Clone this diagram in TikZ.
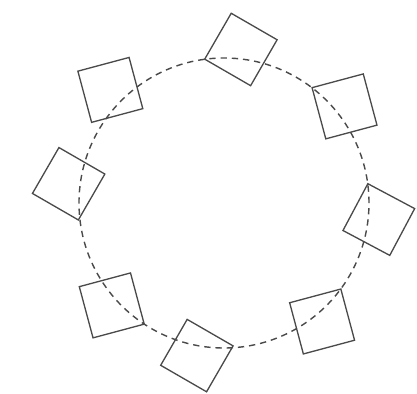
\documentclass[tikz,border=0pt]{standalone}
\usepackage{tikz}
\usetikzlibrary{positioning}
\definecolor{inkgray}{HTML}{4A4A4A}

\begin{document}
\begin{tikzpicture}[
    sq/.style={draw=inkgray, line width=0.75pt, minimum size=1.06cm,
               inner sep=0pt, anchor=#1},
    ring/.style={draw=inkgray, line width=0.8pt, dash pattern=on 3.6pt off 2.8pt},
]
    \useasboundingbox (-4.48, -3.82) rectangle (3.86, 4.06);
    \coordinate (c) at (0, 0);

    % Dashed ring
    \draw[ring] (c) circle (2.9);

    % Squares, one corner on the ring
    \node[sq=south west, rotate=-30] (s1) at (98:2.9) {};
    \node[sq=north west, rotate=15]  (s2) at (53:2.9) {};
    \node[sq=north west, rotate=-28] (s3) at (8:2.9) {};
    \node[sq=north east, rotate=15]  (s4) at (-36:2.9) {};
    \node[sq=north east, rotate=-30] (s5) at (-86:2.86) {};
    \node[sq=south east, rotate=15]  (s6) at (-123:2.9) {};
    \node[sq=south east, rotate=-30] (s7) at (187:2.93) {};
    \node[sq=south west, rotate=15]  (s8) at (149:3.1) {};
\end{tikzpicture}
\end{document}
